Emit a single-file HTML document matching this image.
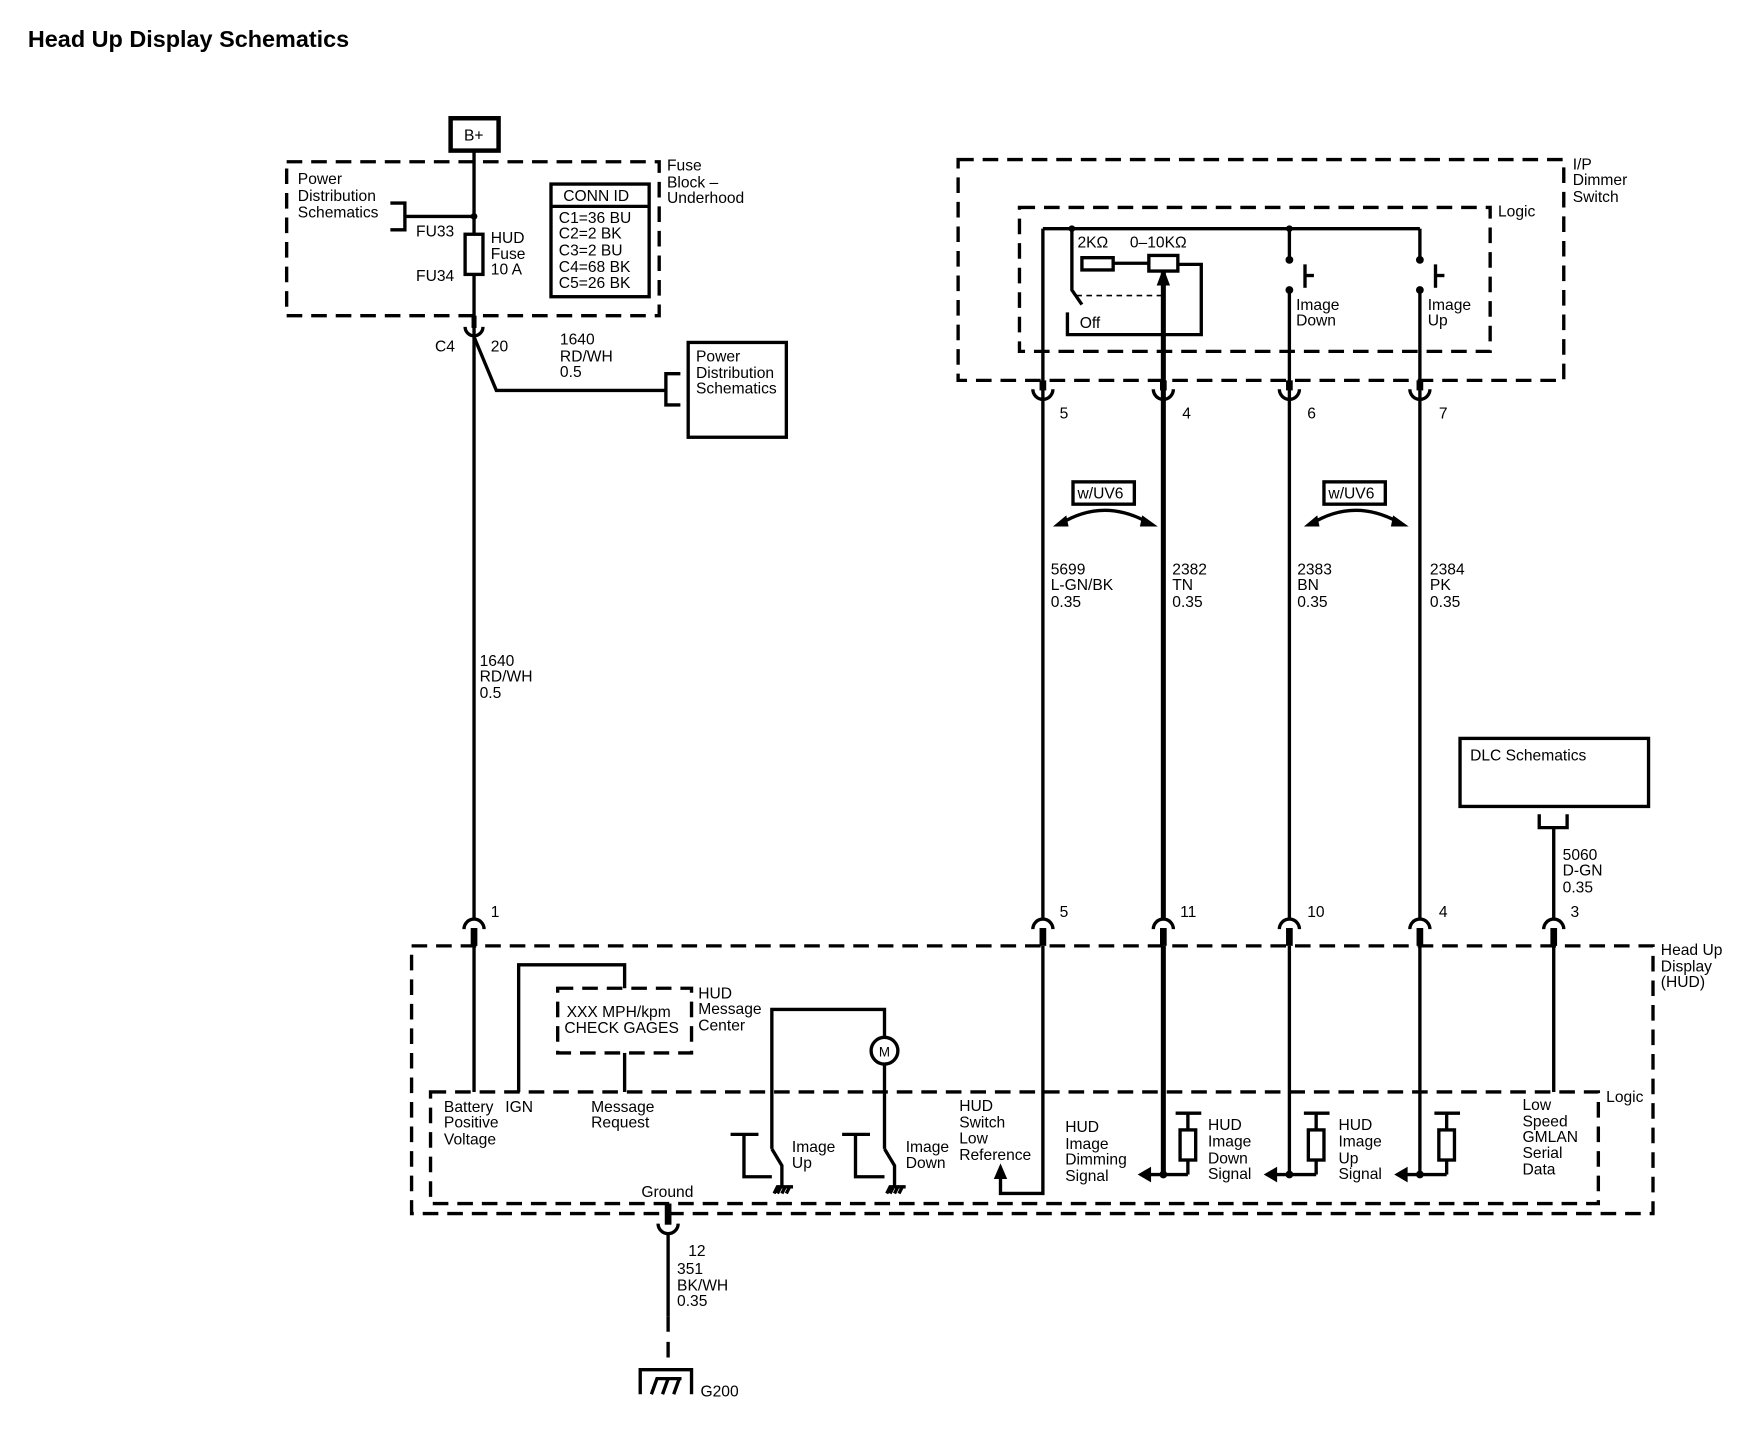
<!DOCTYPE html>
<html><head><meta charset="utf-8"><style>
html,body{margin:0;padding:0;background:#fff;}
svg{display:block;}
text{font-family:"Liberation Sans",Arial,sans-serif;font-size:14px;fill:#000;}
.t{font-weight:bold;font-size:21px;}
.w{stroke:#000;stroke-width:3;fill:none;}
.wt{stroke:#000;stroke-width:4.5;fill:none;}
.d{stroke:#000;stroke-width:3;fill:none;stroke-dasharray:14 8;}
.dd{stroke:#000;stroke-width:1.5;fill:none;stroke-dasharray:5 4;}
</style></head><body>
<svg width="1740" height="1440" viewBox="0 0 1560 1291" xmlns="http://www.w3.org/2000/svg">
<rect x="0" y="0" width="1560" height="1291" fill="#fff"/>
<text class="t" x="25" y="42">Head Up Display Schematics</text>

<!-- B+ -->
<rect x="404" y="106" width="43" height="29" fill="#fff" stroke="#000" stroke-width="4"/>
<text x="416" y="126">B+</text>
<line class="w" x1="425" y1="135" x2="425" y2="823"/>
<!-- fuse block -->
<rect class="d" x="257" y="145" width="334" height="138"/>
<text x="598" y="153">Fuse</text><text x="598" y="168">Block –</text><text x="598" y="182">Underhood</text>
<text x="267" y="165">Power</text><text x="267" y="180">Distribution</text><text x="267" y="195">Schematics</text>
<polyline class="w" points="350,182 363,182 363,206 350,206"/>
<line class="w" x1="363" y1="194" x2="425" y2="194"/>
<circle cx="425" cy="194" r="3"/>
<text x="373" y="212">FU33</text>
<rect x="417" y="210" width="16" height="36" fill="#fff" stroke="#000" stroke-width="3"/>
<text x="440" y="218">HUD</text><text x="440" y="232">Fuse</text><text x="440" y="246">10 A</text>
<text x="373" y="252">FU34</text>
<rect x="494" y="165" width="88" height="101" fill="#fff" stroke="#000" stroke-width="3"/>
<line class="w" x1="494" y1="185" x2="582" y2="185"/>
<text x="505" y="180">CONN ID</text>
<text x="501" y="200">C1=36 BU</text><text x="501" y="214">C2=2 BK</text><text x="501" y="229">C3=2 BU</text><text x="501" y="244">C4=68 BK</text><text x="501" y="258">C5=26 BK</text>
<!-- C4 connector -->
<line class="wt" x1="425" y1="283" x2="425" y2="294" stroke-width="6"/>
<path class="w" d="M417,293 A8,8 0 0 0 433,293"/>
<text x="390" y="315">C4</text><text x="440" y="315">20</text>
<polyline class="w" points="425,302 445,350 597,350"/>
<polyline class="w" points="610,335 597,335 597,363 610,363"/>
<rect x="617" y="307" width="88" height="85" fill="#fff" stroke="#000" stroke-width="3"/>
<text x="624" y="324">Power</text><text x="624" y="339">Distribution</text><text x="624" y="353">Schematics</text>
<text x="502" y="309">1640</text><text x="502" y="324">RD/WH</text><text x="502" y="338">0.5</text>
<text x="430" y="597">1640</text><text x="430" y="611">RD/WH</text><text x="430" y="626">0.5</text>

<!-- I/P dimmer -->
<rect class="d" x="859" y="143" width="543" height="198"/>
<text x="1410" y="152">I/P</text><text x="1410" y="166">Dimmer</text><text x="1410" y="181">Switch</text>
<rect class="d" x="914" y="186" width="422" height="129"/>
<text x="1343" y="194">Logic</text>
<line class="w" x1="935" y1="205" x2="1273" y2="205"/>
<line class="w" x1="935" y1="205" x2="935" y2="823"/>
<line class="wt" x1="1043" y1="243" x2="1043" y2="823"/>
<polygon points="1043,240 1037,256 1049,256"/>
<line class="w" x1="1156" y1="205" x2="1156" y2="233"/>
<line class="w" x1="1156" y1="260" x2="1156" y2="823"/>
<line class="w" x1="1273" y1="205" x2="1273" y2="233"/>
<line class="w" x1="1273" y1="260" x2="1273" y2="823"/>
<circle cx="961" cy="205" r="3"/><circle cx="1156" cy="205" r="3"/>
<circle cx="1156" cy="233" r="3.5"/><circle cx="1156" cy="260" r="3.5"/>
<circle cx="1273" cy="233" r="3.5"/><circle cx="1273" cy="260" r="3.5"/>
<polyline class="w" points="1170,237 1170,258"/><line class="w" x1="1170" y1="247" x2="1178" y2="247"/>
<polyline class="w" points="1287,237 1287,258"/><line class="w" x1="1287" y1="247" x2="1295" y2="247"/>
<text x="1162" y="278">Image</text><text x="1162" y="292">Down</text>
<text x="1280" y="278">Image</text><text x="1280" y="292">Up</text>
<polyline class="w" points="961,205 961,260 970,273"/>
<line class="dd" x1="965" y1="265" x2="1043" y2="265"/>
<polyline class="w" points="957,280 957,300 1077,300 1077,237 1056,237"/>
<rect x="970" y="231" width="28" height="11" fill="#fff" stroke="#000" stroke-width="3"/>
<line class="w" x1="998" y1="236" x2="1030" y2="236"/>
<rect x="1030" y="229" width="26" height="14" fill="#fff" stroke="#000" stroke-width="3"/>
<text x="966" y="222">2KΩ</text><text x="1013" y="222">0–10KΩ</text>
<text x="968" y="294">Off</text>
<!-- top connectors -->
<g>
<line x1="935" y1="341" x2="935" y2="350" stroke="#000" stroke-width="6"/><path class="w" d="M926,349 A9,9 0 0 0 944,349"/>
<line x1="1043" y1="341" x2="1043" y2="350" stroke="#000" stroke-width="6"/><path class="w" d="M1034,349 A9,9 0 0 0 1052,349"/>
<line x1="1156" y1="341" x2="1156" y2="350" stroke="#000" stroke-width="6"/><path class="w" d="M1147,349 A9,9 0 0 0 1165,349"/>
<line x1="1273" y1="341" x2="1273" y2="350" stroke="#000" stroke-width="6"/><path class="w" d="M1264,349 A9,9 0 0 0 1282,349"/>
</g>
<text x="950" y="375">5</text><text x="1060" y="375">4</text><text x="1172" y="375">6</text><text x="1290" y="375">7</text>
<!-- w/UV6 -->
<rect x="962" y="432" width="55" height="20" fill="#fff" stroke="#000" stroke-width="3"/><text x="966" y="447">w/UV6</text>
<path class="w" d="M950,470 Q990,445 1032,470"/>
<polygon points="944,472 956,462 958,472"/><polygon points="1038,472 1024,462 1022,472"/>
<rect x="1187" y="432" width="55" height="20" fill="#fff" stroke="#000" stroke-width="3"/><text x="1191" y="447">w/UV6</text>
<path class="w" d="M1175,470 Q1215,445 1257,470"/>
<polygon points="1169,472 1181,462 1183,472"/><polygon points="1263,472 1249,462 1247,472"/>
<text x="942" y="515">5699</text><text x="942" y="529">L-GN/BK</text><text x="942" y="544">0.35</text>
<text x="1051" y="515">2382</text><text x="1051" y="529">TN</text><text x="1051" y="544">0.35</text>
<text x="1163" y="515">2383</text><text x="1163" y="529">BN</text><text x="1163" y="544">0.35</text>
<text x="1282" y="515">2384</text><text x="1282" y="529">PK</text><text x="1282" y="544">0.35</text>
<!-- DLC -->
<rect x="1309" y="662" width="169" height="61" fill="#fff" stroke="#000" stroke-width="3"/>
<text x="1318" y="682">DLC Schematics</text>
<polyline class="w" points="1380,730 1380,742 1405,742 1405,730"/>
<line class="w" x1="1393" y1="742" x2="1393" y2="823"/>
<text x="1401" y="771">5060</text><text x="1401" y="785">D-GN</text><text x="1401" y="800">0.35</text>
<!-- bottom connectors -->
<g>
<path class="w" d="M416,833 A9,9 0 0 1 434,833"/><line x1="425" y1="832" x2="425" y2="848" stroke="#000" stroke-width="6"/>
<path class="w" d="M926,833 A9,9 0 0 1 944,833"/><line x1="935" y1="832" x2="935" y2="848" stroke="#000" stroke-width="6"/>
<path class="w" d="M1034,833 A9,9 0 0 1 1052,833"/><line x1="1043" y1="832" x2="1043" y2="848" stroke="#000" stroke-width="6"/>
<path class="w" d="M1147,833 A9,9 0 0 1 1165,833"/><line x1="1156" y1="832" x2="1156" y2="848" stroke="#000" stroke-width="6"/>
<path class="w" d="M1264,833 A9,9 0 0 1 1282,833"/><line x1="1273" y1="832" x2="1273" y2="848" stroke="#000" stroke-width="6"/>
<path class="w" d="M1384,833 A9,9 0 0 1 1402,833"/><line x1="1393" y1="832" x2="1393" y2="848" stroke="#000" stroke-width="6"/>
</g>
<text x="440" y="822">1</text><text x="950" y="822">5</text><text x="1058" y="822">11</text><text x="1172" y="822">10</text><text x="1290" y="822">4</text><text x="1408" y="822">3</text>
<!-- HUD box -->
<rect class="d" x="369" y="848" width="1113" height="240"/>
<text x="1489" y="856">Head Up</text><text x="1489" y="871">Display</text><text x="1489" y="885">(HUD)</text>
<rect class="d" x="386" y="979" width="1047" height="100"/>
<text x="1440" y="988">Logic</text>
<line class="w" x1="425" y1="848" x2="425" y2="979"/>
<polyline class="w" points="465,979 465,865 560,865 560,886"/>
<rect class="d" x="500" y="886" width="120" height="58"/>
<text x="508" y="912">XXX MPH/kpm</text><text x="506" y="926">CHECK GAGES</text>
<line class="w" x1="560" y1="944" x2="560" y2="979"/>
<text x="626" y="895">HUD</text><text x="626" y="909">Message</text><text x="626" y="924">Center</text>
<text x="398" y="997">Battery</text><text x="398" y="1011">Positive</text><text x="398" y="1026">Voltage</text>
<text x="453" y="997">IGN</text>
<text x="530" y="997">Message</text><text x="530" y="1011">Request</text>
<!-- image switches -->
<polyline class="w" points="692,1030 692,905 793,905 793,930"/>
<circle cx="793" cy="942" r="12" fill="#fff" stroke="#000" stroke-width="3"/>
<text x="788" y="947" style="font-size:12px">M</text>
<polyline class="w" points="793,954 793,1030"/>
<polyline class="w" points="692,1030 701,1045 701,1063"/>
<polyline class="w" points="793,1030 802,1045 802,1063"/>
<line class="w" x1="655" y1="1017" x2="680" y2="1017"/><polyline class="w" points="667,1017 667,1055 692,1055"/>
<line class="w" x1="755" y1="1017" x2="780" y2="1017"/><polyline class="w" points="767,1017 767,1055 793,1055"/>
<path d="M694,1070 l3,-6 h14 M697,1070 l3,-6 M701,1070 l3,-6 M705,1070 l3,-6" class="w" stroke-width="2"/>
<path d="M795,1070 l3,-6 h14 M798,1070 l3,-6 M802,1070 l3,-6 M806,1070 l3,-6" class="w" stroke-width="2"/>
<text x="710" y="1033">Image</text><text x="710" y="1047">Up</text>
<text x="812" y="1033">Image</text><text x="812" y="1047">Down</text>
<!-- low ref -->
<polyline class="w" points="935,848 935,1070 897,1070 897,1055"/>
<polygon points="897,1043 891,1057 903,1057"/>
<text x="860" y="996">HUD</text><text x="860" y="1011">Switch</text><text x="860" y="1025">Low</text><text x="860" y="1040">Reference</text>
<text x="955" y="1015">HUD</text><text x="955" y="1030">Image</text><text x="955" y="1044">Dimming</text><text x="955" y="1059">Signal</text>
<!-- signal branches -->
<g>
<line class="wt" x1="1043" y1="848" x2="1043" y2="1053"/>
<line class="w" x1="1030" y1="1053" x2="1065" y2="1053"/><polygon points="1020,1053 1032,1046 1032,1060"/><circle cx="1043" cy="1053" r="3.5"/>
<polyline class="w" points="1065,1053 1065,998"/><line class="w" x1="1054" y1="998" x2="1077" y2="998"/>
<rect x="1058" y="1013" width="14" height="27" fill="#fff" stroke="#000" stroke-width="3"/>
</g>
<g>
<line class="w" x1="1156" y1="848" x2="1156" y2="1053"/>
<line class="w" x1="1143" y1="1053" x2="1180" y2="1053"/><polygon points="1133,1053 1145,1046 1145,1060"/><circle cx="1156" cy="1053" r="3.5"/>
<polyline class="w" points="1180,1053 1180,998"/><line class="w" x1="1169" y1="998" x2="1192" y2="998"/>
<rect x="1173" y="1013" width="14" height="27" fill="#fff" stroke="#000" stroke-width="3"/>
</g>
<g>
<line class="w" x1="1273" y1="848" x2="1273" y2="1053"/>
<line class="w" x1="1260" y1="1053" x2="1297" y2="1053"/><polygon points="1250,1053 1262,1046 1262,1060"/><circle cx="1273" cy="1053" r="3.5"/>
<polyline class="w" points="1297,1053 1297,998"/><line class="w" x1="1286" y1="998" x2="1309" y2="998"/>
<rect x="1290" y="1013" width="14" height="27" fill="#fff" stroke="#000" stroke-width="3"/>
</g>
<text x="1083" y="1013">HUD</text><text x="1083" y="1028">Image</text><text x="1083" y="1043">Down</text><text x="1083" y="1057">Signal</text>
<text x="1200" y="1013">HUD</text><text x="1200" y="1028">Image</text><text x="1200" y="1043">Up</text><text x="1200" y="1057">Signal</text>
<line class="w" x1="1393" y1="848" x2="1393" y2="979"/>
<text x="1365" y="995">Low</text><text x="1365" y="1010">Speed</text><text x="1365" y="1024">GMLAN</text><text x="1365" y="1038">Serial</text><text x="1365" y="1053">Data</text>
<!-- ground -->
<text x="575" y="1073">Ground</text>
<line x1="599" y1="1079" x2="599" y2="1098" stroke="#000" stroke-width="6"/>
<path class="w" d="M590,1097 A9,9 0 0 0 608,1097"/>
<line class="w" x1="599" y1="1105" x2="599" y2="1180"/>
<line class="w" x1="599" y1="1180" x2="599" y2="1222" stroke-dasharray="14 9"/>
<text x="617" y="1126">12</text>
<text x="607" y="1142">351</text><text x="607" y="1157">BK/WH</text><text x="607" y="1171">0.35</text>
<polyline class="w" points="574,1250 574,1228 620,1228 620,1250"/>
<path class="w" stroke-width="2.5" d="M584,1250 l5,-14 h22 M594,1250 l5,-14 M604,1250 l5,-14"/>
<text x="628" y="1252">G200</text>
</svg>
</body></html>
